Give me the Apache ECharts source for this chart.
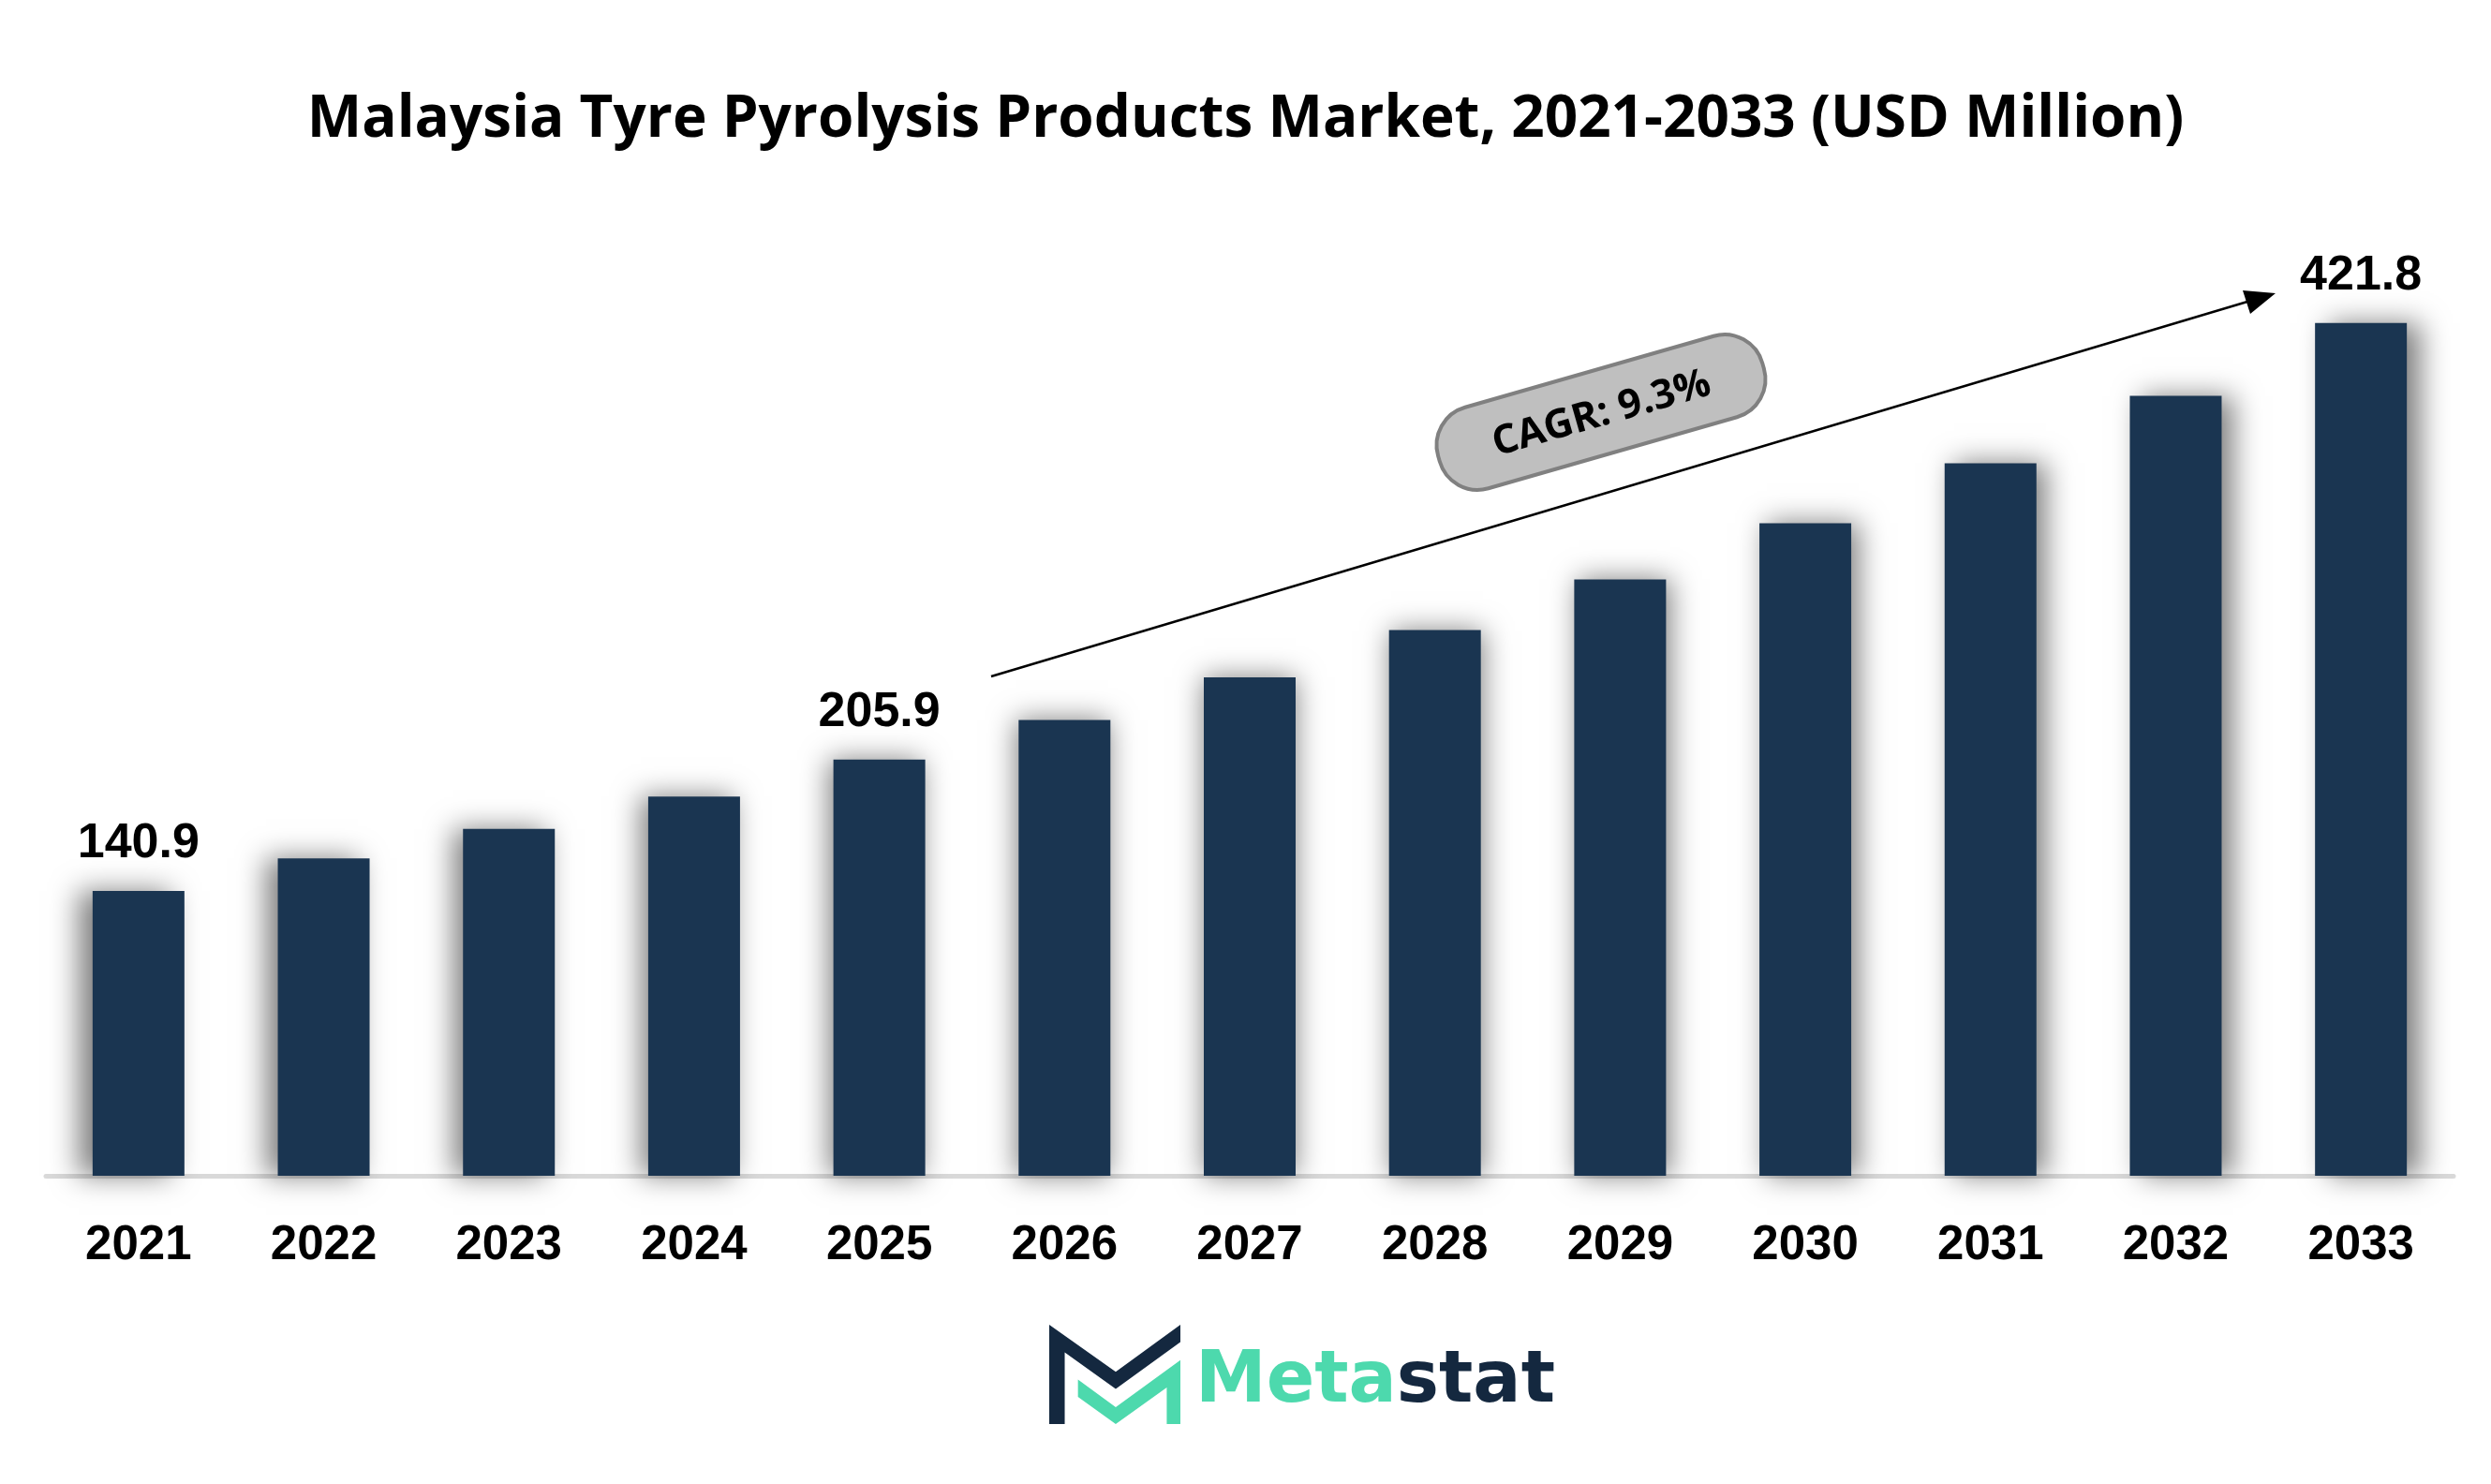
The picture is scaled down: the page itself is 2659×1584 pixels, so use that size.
<!DOCTYPE html>
<html>
<head>
<meta charset="utf-8">
<title>Malaysia Tyre Pyrolysis Products Market</title>
<script src="https://cdn.jsdelivr.net/npm/echarts@6/dist/echarts.min.js"></script>
<style>
  html, body { margin: 0; padding: 0; background: #fff; }
  #chart { width: 2659px; height: 1584px; }
</style>
</head>
<body>
<div id="chart"></div>
<script>
// chart data
const years = ['2021', '2022', '2023', '2024', '2025', '2026', '2027', '2028', '2029', '2030', '2031', '2032', '2033'];
const marketValues = [140.9, 157.0, 171.6, 187.6, 205.9, 225.5, 246.6, 269.9, 295.0, 322.8, 352.5, 385.8, 421.8];
const labelledYears = ['2021', '2025', '2033'];
const cagrText = 'CAGR: 9.3%';
const titleText = 'Malaysia Tyre Pyrolysis Products Market, 2021-2033 (USD Million)';

const barColor = '#1a3551';

// shadow falls outward from the middle of the chart
const barData = marketValues.map(function (v, i) {
  return {
    value: v,
    itemStyle: {
      color: barColor,
      shadowColor: 'rgba(0,0,0,0.5)',
      shadowBlur: 28,
      shadowOffsetX: (i - 6) * 2.5,
      shadowOffsetY: 0
    },
    label: { show: labelledYears.indexOf(years[i]) !== -1 }
  };
});

// logo icon, in unit coordinates
function iconPoints(pts, x0, y0, w, h) {
  return pts.map(function (p) { return [x0 + p[0] * w, y0 + p[1] * h]; });
}
const darkM = [[0, 0], [0.507, 0.473], [1, 0], [1, 0.174], [0.507, 0.647], [0.118, 0.278], [0.118, 1], [0, 1]];
const greenM = [[0.219, 0.552], [0.507, 0.830], [1, 0.356], [1, 1], [0.896, 1], [0.896, 0.631], [0.507, 1], [0.219, 0.726]];

const myChart = echarts.init(document.getElementById('chart'));
myChart.setOption({
  backgroundColor: '#fff',
  animation: false,
  title: {
    text: titleText,
    left: 'center',
    top: 92,
    textStyle: {
      fontFamily: 'Open Sans',
      fontWeight: 'bold',
      fontSize: 62,
      color: '#000'
    }
  },
  grid: {
    left: 49,
    right: 40,
    top: 284,
    bottom: 329,
    containLabel: false
  },
  xAxis: {
    type: 'category',
    data: years,
    axisTick: { show: false },
    axisLine: { show: true, lineStyle: { color: '#d9d9d9', width: 5 } },
    axisLabel: {
      margin: 49,
      color: '#000',
      fontFamily: 'Liberation Sans',
      fontWeight: 'bold',
      fontSize: 51
    }
  },
  yAxis: {
    type: 'value',
    min: 0,
    max: 450,
    show: false,
    splitLine: { show: false }
  },
  series: [
    {
      type: 'bar',
      barWidth: 98,
      data: barData,
      label: {
        position: 'top',
        distance: 24,
        color: '#000',
        fontFamily: 'Liberation Sans',
        fontWeight: 'bold',
        fontSize: 52
      }
    }
  ],
  graphic: [
    {
      type: 'line',
      shape: { x1: 1058, y1: 722, x2: 2399, y2: 322 },
      style: { stroke: '#000', lineWidth: 2.5 },
      z: 10
    },
    {
      type: 'polygon',
      shape: { points: [[2429, 313], [2402, 335], [2394, 310]] },
      style: { fill: '#000' },
      z: 10
    },
    {
      type: 'group',
      x: 1709,
      y: 440,
      rotation: 16 * Math.PI / 180,
      z: 10,
      children: [
        {
          type: 'rect',
          shape: { x: -180, y: -45, width: 360, height: 90, r: 42 },
          style: { fill: '#bfbfbf', stroke: '#808080', lineWidth: 4 }
        },
        {
          type: 'text',
          style: {
            text: cagrText,
            x: 0,
            y: 2,
            align: 'center',
            verticalAlign: 'middle',
            font: 'bold 43px "Open Sans"',
            fill: '#000'
          }
        }
      ]
    },
    {
      type: 'polygon',
      shape: { points: iconPoints(darkM, 1120, 1414, 140, 106) },
      style: { fill: '#14283f' }
    },
    {
      type: 'polygon',
      shape: { points: iconPoints(greenM, 1120, 1414, 140, 106) },
      style: { fill: '#4dd9ad' }
    },
    {
      type: 'text',
      x: 1276,
      y: 1514,
      style: {
        text: '{g|Meta}{d|stat}',
        verticalAlign: 'bottom',
        rich: {
          g: { fontFamily: 'DejaVu Sans', fontWeight: 'bold', fontSize: 76, fill: '#4dd9ad' },
          d: { fontFamily: 'DejaVu Sans', fontWeight: 'bold', fontSize: 76, fill: '#14283f' }
        }
      }
    }
  ]
});
</script>
</body>
</html>
